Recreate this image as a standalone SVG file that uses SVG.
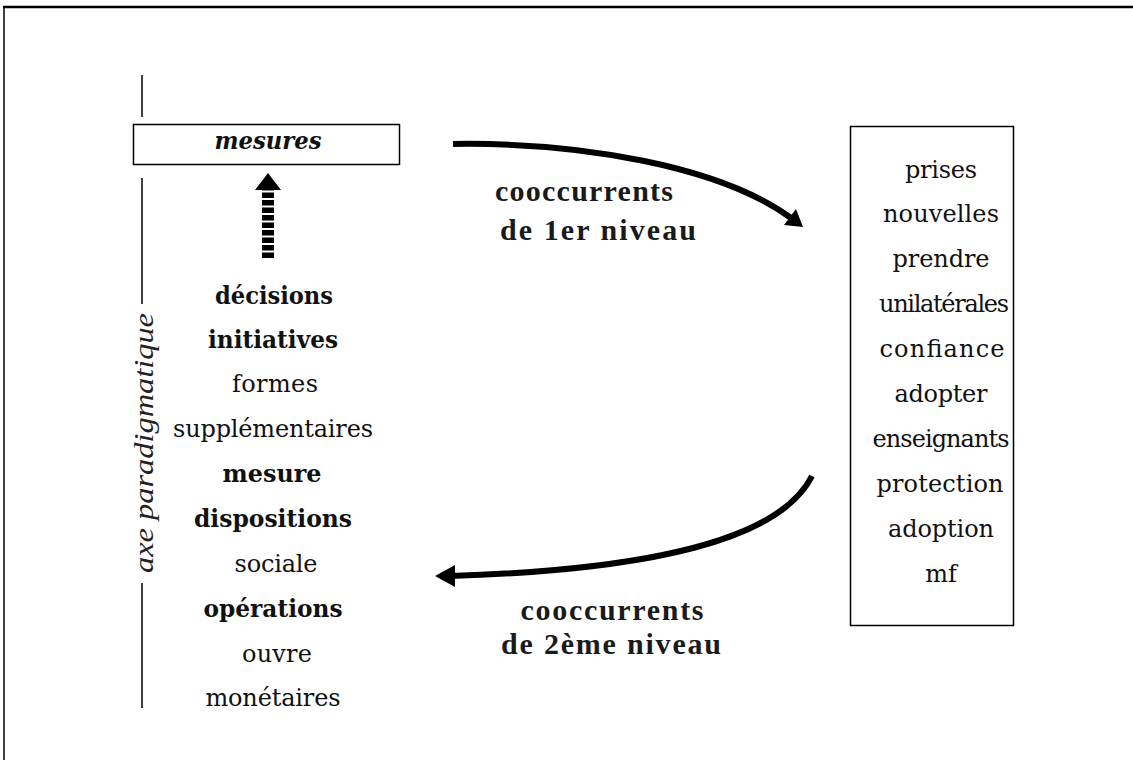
<svg xmlns="http://www.w3.org/2000/svg" width="1133" height="760" viewBox="0 0 1133 760">
<style>
.w{font-family:"DejaVu Serif","Liberation Serif",serif;font-size:24px;fill:#111;text-anchor:middle}
.b{font-weight:bold}
.lab{font-family:"Liberation Serif","Times New Roman",serif;font-size:30px;font-weight:bold;fill:#1a1a1a;text-anchor:middle}
.ax{font-family:"Liberation Serif","Times New Roman",serif;font-size:27px;font-style:italic;fill:#222;text-anchor:middle}
.ln{stroke:#000;fill:none}
</style>
<rect width="1133" height="760" fill="#fff"/>
<g id="frame">
<line x1="3" y1="7" x2="1133" y2="7" stroke="#000" stroke-width="2.5"/>
<line x1="4" y1="6" x2="4" y2="760" stroke="#000" stroke-width="1.5"/>
</g>
<g id="axis">
<line class="ln" x1="142" y1="75" x2="142" y2="117" stroke-width="1.5"/>
<line class="ln" x1="142" y1="178" x2="142" y2="304" stroke-width="1.5"/>
<line class="ln" x1="142" y1="583" x2="142" y2="708" stroke-width="1.5"/>
<text class="ax" transform="translate(153,443) rotate(-90)" textLength="260" lengthAdjust="spacingAndGlyphs">axe paradigmatique</text>
</g>
<g id="mesures">
<rect x="133.5" y="124.5" width="266" height="40" fill="#fff" stroke="#000" stroke-width="1.5"/>
<text class="w b" x="268" y="149" font-style="italic" textLength="107" lengthAdjust="spacingAndGlyphs">mesures</text>
</g>
<g id="paradigm-list">
<text class="w b" x="274" y="304" textLength="118" lengthAdjust="spacingAndGlyphs">décisions</text>
<text class="w b" x="273" y="348" textLength="130" lengthAdjust="spacingAndGlyphs">initiatives</text>
<text class="w" x="275" y="392" textLength="86">formes</text>
<text class="w" x="273" y="437" textLength="200">supplémentaires</text>
<text class="w b" x="272" y="482" textLength="99" lengthAdjust="spacingAndGlyphs">mesure</text>
<text class="w b" x="273" y="527" textLength="158" lengthAdjust="spacingAndGlyphs">dispositions</text>
<text class="w" x="276" y="572" textLength="83">sociale</text>
<text class="w b" x="273" y="617" textLength="139" lengthAdjust="spacingAndGlyphs">opérations</text>
<text class="w" x="277" y="662" textLength="70">ouvre</text>
<text class="w" x="273" y="706" textLength="135">monétaires</text>
</g>
<g id="cooccurrents-box">
<rect x="850.5" y="126.5" width="163" height="499" fill="#fff" stroke="#000" stroke-width="1.5"/>
<text class="w" x="941" y="178" textLength="72">prises</text>
<text class="w" x="941" y="222" textLength="116">nouvelles</text>
<text class="w" x="941" y="267" textLength="97">prendre</text>
<text class="w" x="944" y="312" textLength="130">unilatérales</text>
<text class="w" x="942" y="357" textLength="125">confiance</text>
<text class="w" x="941" y="402" textLength="93">adopter</text>
<text class="w" x="941" y="447" textLength="137">enseignants</text>
<text class="w" x="940" y="492" textLength="127">protection</text>
<text class="w" x="941" y="537" textLength="106">adoption</text>
<text class="w" x="941" y="582">mf</text>
</g>
<g id="connectors">
<line x1="268" y1="258" x2="268" y2="189" stroke="#000" stroke-width="12" stroke-dasharray="5.5,2"/>
<polygon points="268,173 281,190 255,190" fill="#000"/>
<path class="ln" d="M453,144 C580,142 720,166 791,218" stroke-width="6"/>
<polygon points="803,227 784,225 796,209" fill="#000"/>
<path class="ln" d="M812,476 C780,540 650,570 450,576" stroke-width="6"/>
<polygon points="435,576 455,565 455,587" fill="#000"/>
</g>
<g id="labels">
<text class="lab" x="584" y="201" textLength="178">cooccurrents</text>
<text class="lab" x="598" y="240" textLength="196">de 1er niveau</text>
<text class="lab" x="612" y="620" textLength="183">cooccurrents</text>
<text class="lab" x="611" y="654" textLength="220">de 2ème niveau</text>
</g>
</svg>
